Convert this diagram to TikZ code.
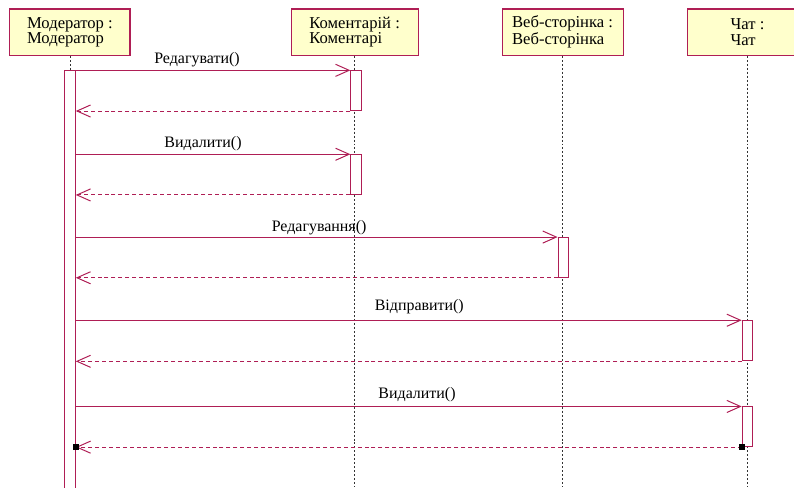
\documentclass[tikz,border=0pt]{standalone}
\usepackage{fontspec}
\setmainfont{Liberation Serif}
\usetikzlibrary{arrows.meta}
\definecolor{umlred}{RGB}{175,30,85}
\definecolor{umlyellow}{RGB}{255,255,204}
\tikzset{
  hdr/.style={draw=umlred, line width=0.9pt, fill=umlyellow, minimum height=12.2mm, align=left, inner sep=0pt, font=\fontsize{12.5}{11.5}\selectfont},
  life/.style={draw=black!80, line width=0.6pt, dash pattern=on 1.5pt off 1.5pt},
  act/.style={draw=umlred, line width=0.75pt, fill=white, minimum width=2.8mm, minimum height=10.5mm, inner sep=0pt, anchor=north},
  msg/.style={draw=umlred, line width=0.75pt, -{Straight Barb[length=3.6mm,width=3.2mm]}},
  ret/.style={msg, dash pattern=on 3pt off 2.2pt},
  lbl/.style={anchor=base, inner sep=0pt, font=\fontsize{12}{13}\selectfont},
  sel/.style={fill=black, minimum size=1.6mm, inner sep=0pt}
}
\begin{document}
\begin{tikzpicture}
\useasboundingbox (0,0) rectangle (210mm,128.9mm);
\clip (0,0) rectangle (210mm,128.9mm);

% Об'єкти
\node[hdr, minimum width=31.8mm] (moder) at (18.5mm,120.4mm) {Модератор :\\Модератор};
\node[hdr, minimum width=33.6mm] (koment) at (93.8mm,120.4mm) {Коментарій :\\Коментарі};
\node[hdr, minimum width=32mm] (veb) at (148.8mm,120.4mm) {Веб-сторінка :\\Веб-сторінка};
\node[hdr, minimum width=31.8mm] (chat) at (197.7mm,120.4mm) {Чат :\\Чат};

% Лінії життя
\draw[life] (moder.south) -- (moder.south |- 0,0);
\draw[life] (koment.south) -- (koment.south |- 0,0);
\draw[life] (veb.south) -- (veb.south |- 0,0);
\draw[life] (chat.south) -- (chat.south |- 0,0);

% Активації
\node[act, minimum height=115mm] (am) at (18.5mm,110.3mm) {};
\node[act] (a1) at (94.2mm,110.3mm) {};
\node[act] (a2) at (94.2mm,88.1mm) {};
\node[act] (a3) at (149mm,66.2mm) {};
\node[act, minimum height=10.6mm] (a4) at (197.7mm,44.2mm) {};
\node[act] (a5) at (197.7mm,21.4mm) {};

% Редагувати
\draw[msg] (am.east |- a1.north west) -- (a1.north west);
\draw[ret] (a1.south west) -- (am.east |- a1.south west);
\node[lbl] (l1) at (52.1mm,112.2mm) {Редагувати()};

% Видалити
\draw[msg] (am.east |- a2.north west) -- (a2.north west);
\draw[ret] (a2.south west) -- (am.east |- a2.south west);
\node[lbl] (l2) at (53.7mm,90mm) {Видалити()};

% Редагування
\draw[msg] (am.east |- a3.north west) -- (a3.north west);
\draw[ret] (a3.south west) -- (am.east |- a3.south west);
\node[lbl] (l3) at (84.4mm,67.7mm) {Редагування()};

% Відправити
\draw[msg] (am.east |- a4.north west) -- (a4.north west);
\draw[ret] (a4.south west) -- (am.east |- a4.south west);
\node[lbl] (l4) at (110.9mm,46.8mm) {Відправити()};

% Видалити (чат)
\draw[msg] (am.east |- a5.north west) -- (a5.north west);
\draw[ret] (a5.south west) -- (am.east |- a5.south west);
\node[lbl] (l5) at (110.3mm,23.5mm) {Видалити()};

% Маркери
\node[sel] (s1) at (am.east |- a5.south west) {};
\node[sel] (s2) at (a5.south west) {};
\end{tikzpicture}
\end{document}
